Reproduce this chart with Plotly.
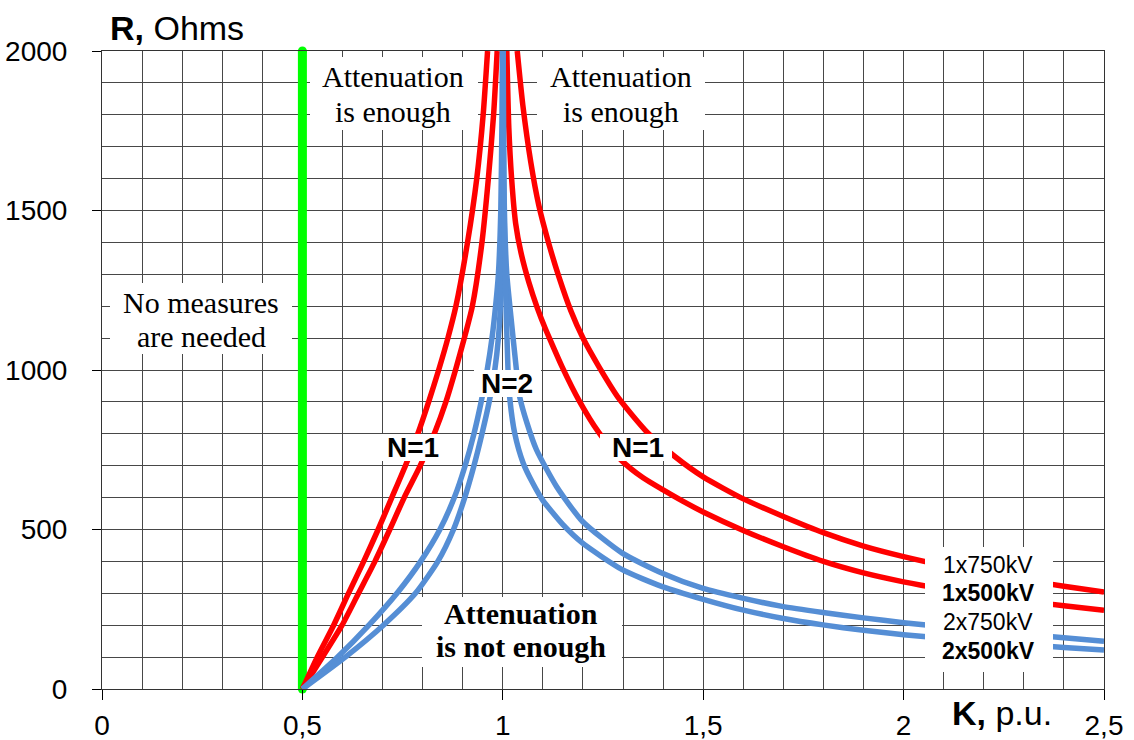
import plotly.graph_objects as go

# ---------------- data ----------------
# Boundary of "no measures" zone
green_K = [0.5, 0.5]
green_R = [0, 2000]

# 1x750kV (N=1), left branch (R -> K) and right branch (K -> R)
r750_left_R = [0, 100, 200, 300, 400, 500, 600, 700, 800, 900, 1000, 1100, 1200, 1400, 1600, 1800, 2000]
r750_left_K = [0.500, 0.537, 0.578, 0.615, 0.653, 0.689, 0.723, 0.757, 0.788, 0.815, 0.840, 0.863, 0.883, 0.912, 0.935, 0.951, 0.962]
r750_right_K = [1.036, 1.050, 1.070, 1.090, 1.115, 1.140, 1.170, 1.200, 1.240, 1.290, 1.360, 1.430, 1.500,
                1.600, 1.700, 1.800, 1.900, 2.000, 2.100, 2.200, 2.300, 2.400, 2.500]
r750_right_R = [2000, 1830, 1650, 1515, 1395, 1292, 1185, 1100, 1010, 910, 805, 728, 665,
                596, 541, 490, 448, 415, 387, 363, 342, 322, 304]

# 1x500kV (N=1)
r500_left_R = [0, 100, 200, 300, 400, 500, 600, 700, 800, 900, 1000, 1100, 1200, 1400, 1600, 1800, 2000]
r500_left_K = [0.500, 0.550, 0.599, 0.640, 0.681, 0.718, 0.754, 0.794, 0.829, 0.858, 0.882, 0.904, 0.924, 0.948, 0.964, 0.977, 0.986]
r500_right_K = [1.010, 1.015, 1.022, 1.032, 1.045, 1.065, 1.086, 1.106, 1.125, 1.148, 1.190, 1.239, 1.295, 1.350,
                1.400, 1.450, 1.500, 1.600, 1.700, 1.800, 1.900, 2.000, 2.100, 2.200, 2.300, 2.400, 2.500]
r500_right_R = [2000, 1760, 1600, 1460, 1370, 1275, 1195, 1130, 1075, 1010, 905, 805, 718, 662,
                624, 588, 555, 497, 446, 400, 364, 336, 313, 293, 276, 261, 247]

# 2x750kV (N=2)
b750_left_R = [0, 100, 200, 300, 400, 500, 600, 700, 800, 900, 1000, 1100, 1200, 1300, 1500, 1800, 2000]
b750_left_K = [0.500, 0.588, 0.666, 0.736, 0.795, 0.843, 0.879, 0.906, 0.928, 0.946, 0.961, 0.973, 0.982, 0.989, 0.995, 0.998, 0.999]
b750_right_K = [1.001, 1.004, 1.010, 1.020, 1.034, 1.042, 1.060, 1.084, 1.134, 1.199, 1.298, 1.398, 1.498,
                1.598, 1.697, 1.799, 1.900, 2.000, 2.100, 2.200, 2.300, 2.400, 2.500]
b750_right_R = [2000, 1500, 1300, 1170, 1000, 917, 835, 750, 635, 525, 426, 363, 316,
                285, 259, 240, 223, 208, 195, 184, 172, 161, 150]

# 2x500kV (N=2)
b500_left_R = [0, 100, 200, 300, 400, 500, 600, 700, 800, 900, 1000, 1100, 1200, 1400, 1700, 2000]
b500_left_K = [0.500, 0.607, 0.702, 0.782, 0.838, 0.877, 0.905, 0.928, 0.948, 0.966, 0.980, 0.989, 0.994, 0.998, 1.000, 1.000]
b500_right_K = [1.000, 1.002, 1.006, 1.013, 1.017, 1.030, 1.051, 1.075, 1.099, 1.150, 1.199, 1.298, 1.398, 1.498,
                1.598, 1.697, 1.799, 1.900, 2.000, 2.100, 2.200, 2.300, 2.400, 2.500]
b500_right_R = [2000, 1600, 1300, 1000, 917, 800, 708, 645, 593, 515, 457, 374, 321, 282,
                248, 222, 201, 184, 170, 159, 148, 139, 130, 122]

x_tick_vals = [0, 0.5, 1, 1.5, 2, 2.5]
x_tick_text = ["0", "0,5", "1", "1,5", "2", "2,5"]
y_tick_vals = [0, 500, 1000, 1500, 2000]
y_tick_text = ["0", "500", "1000", "1500", "2000"]

series_labels = ["1x750kV", "<b>1x500kV</b>", "2x750kV", "<b>2x500kV</b>"]

# ---------------- layout geometry ----------------
W, H = 1134, 740
ML, MR, MT, MB = 102, 30, 51, 51
PW, PH = W - ML - MR, H - MT - MB

def px(xpix):
    return (xpix - ML) / PW

def py(ypix):
    return (H - MB - ypix) / PH

RED = "#FF0000"
BLUE = "#558ED5"
GREEN = "#00FF00"
GRID = "#474747"
SANS = "Liberation Sans, Arial, sans-serif"
SERIF = "Liberation Serif, Times New Roman, serif"

fig = go.Figure()

fig.add_trace(go.Scatter(x=green_K, y=green_R, mode="lines+markers",
                         line=dict(color=GREEN, width=9),
                         marker=dict(color=GREEN, size=9),
                         cliponaxis=False, hoverinfo="skip"))

def branch(lk, lr, rk, rr):
    return lk + [None] + rk, lr + [None] + rr

for (lk, lr, rk, rr, col, name) in [
    (r750_left_K, r750_left_R, r750_right_K, r750_right_R, RED, "1x750kV"),
    (r500_left_K, r500_left_R, r500_right_K, r500_right_R, RED, "1x500kV"),
    (b750_left_K, b750_left_R, b750_right_K, b750_right_R, BLUE, "2x750kV"),
    (b500_left_K, b500_left_R, b500_right_K, b500_right_R, BLUE, "2x500kV"),
]:
    xs, ys = branch(lk, lr, rk, rr)
    fig.add_trace(go.Scatter(x=xs, y=ys, mode="lines", name=name,
                             line=dict(color=col, width=5.5, shape="spline", smoothing=0.6),
                             connectgaps=False))

# white boxes behind labels (cut grid lines / curves)
boxes = [
    (310, 57, 478, 130),     # Attenuation is enough (left)
    (537, 57, 705, 130),     # Attenuation is enough (right)
    (110, 283, 292, 354),    # No measures are needed
    (422, 597, 622, 667),    # Attenuation is not enough
    (381, 434, 447, 461),    # N=1 left
    (600, 434, 672, 461),    # N=1 right
    (474, 370, 541, 397),    # N=2
    (925, 547, 1053, 672),   # series labels
]
shapes = []
for (x0, y0, x1, y1) in boxes:
    shapes.append(dict(type="rect", xref="paper", yref="paper",
                       x0=px(x0), x1=px(x1), y0=py(y1), y1=py(y0),
                       fillcolor="white", line=dict(width=0), layer="above"))

ann = []
def text(t, xc, yc, size, family, anchor="center"):
    ann.append(dict(text=t, x=px(xc), y=py(yc), xref="paper", yref="paper",
                    xanchor=anchor, yanchor="middle", showarrow=False,
                    font=dict(size=size, family=family, color="black")))

text("Attenuation", 393, 76.5, 30, SERIF)
text("is enough", 393, 111.5, 30, SERIF)
text("Attenuation", 621, 76.5, 30, SERIF)
text("is enough", 621, 111.5, 30, SERIF)
text("No measures", 201, 302, 30, SERIF)
text("are needed", 201, 336.5, 30, SERIF)
text("<b>Attenuation</b>", 521, 613, 30, SERIF)
text("<b>is not enough</b>", 521, 646.5, 30, SERIF)
text("<b>N=1</b>", 413, 447, 28, SANS)
text("<b>N=1</b>", 638, 447, 28, SANS)
text("<b>N=2</b>", 507, 383.5, 28, SANS)
for lab, yc in zip(series_labels, [565.3, 593.3, 621.7, 651]):
    text(lab, 988.3, yc, 23, SANS)
text("<b>R,</b> Ohms", 108, 28, 34, SANS, anchor="left")
text("<b>K,</b> p.u.", 950, 713, 34, SANS, anchor="left")

fig.update_layout(
    width=W, height=H,
    margin=dict(l=ML, r=MR, t=MT, b=MB, autoexpand=False),
    paper_bgcolor="white", plot_bgcolor="white",
    showlegend=False,
    font=dict(family=SANS, color="black"),
    shapes=shapes, annotations=ann,
    xaxis=dict(range=[0, 2.5], tickvals=x_tick_vals, ticktext=x_tick_text,
               ticks="outside", ticklen=10, tickcolor="black", tickwidth=1,
               showline=True, linecolor="#333333", linewidth=1, mirror=True,
               showgrid=True, gridcolor=GRID, gridwidth=1, zeroline=False,
               minor=dict(dtick=0.1, showgrid=True, gridcolor=GRID, gridwidth=1, ticks=""),
               tickfont=dict(size=28, family=SANS, color="black"),
               ticklabelstandoff=1, fixedrange=True, automargin=False),
    yaxis=dict(range=[0, 2000], tickvals=y_tick_vals, ticktext=y_tick_text,
               ticks="outside", ticklen=9, tickcolor="black", tickwidth=1,
               showline=True, linecolor="#333333", linewidth=1, mirror=True,
               showgrid=True, gridcolor=GRID, gridwidth=1, zeroline=False,
               minor=dict(dtick=100, showgrid=True, gridcolor=GRID, gridwidth=1, ticks=""),
               tickfont=dict(size=28, family=SANS, color="black"),
               ticklabelstandoff=19, fixedrange=True, automargin=False),
)

fig.write_html("out.html")
